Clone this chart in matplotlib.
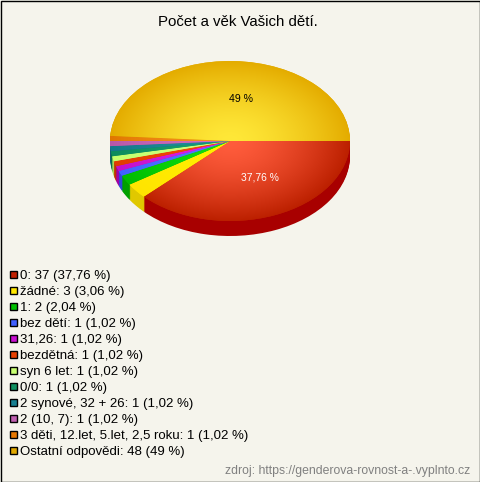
import numpy as np
import matplotlib
matplotlib.use('Agg')
import matplotlib.pyplot as plt
from matplotlib.colors import LinearSegmentedColormap
from matplotlib.patches import Rectangle

plt.rcParams['font.family'] = ['Liberation Sans', 'DejaVu Sans']

labels = ['0', 'žádné', '1', 'bez dětí', '31,26', 'bezdětná', 'syn 6 let', '0/0',
          '2 synové, 32 + 26', '2 (10, 7)', '3 děti, 12.let, 5.let, 2,5 roku',
          'Ostatní odpovědi']
counts = [37, 3, 2, 1, 1, 1, 1, 1, 1, 1, 1, 48]
percents = ['37,76', '3,06', '2,04', '1,02', '1,02', '1,02', '1,02', '1,02',
            '1,02', '1,02', '1,02', '49']

# legend colours, then lit centre / rim of the top face, then the side wall
legend_colors = ['#c02000', '#ffe800', '#00c000', '#4060ff', '#c810d0', '#e84000',
                 '#c8ff70', '#109060', '#187f90', '#c060b0', '#e87800', '#e0a800']
center_colors = ['#ff5c3c', '#fff000', '#10e010', '#5878ff', '#e020e8', '#f84808',
                 '#d0ff80', '#18a070', '#209098', '#d070c0', '#f89020', '#ffe838']
rim_colors = ['#bc2000', '#ffe400', '#00bc00', '#4060ff', '#c010c8', '#e03c00',
              '#c4ff6c', '#0c8c5c', '#14788c', '#b858a8', '#e07800', '#e4ac00']
side_colors = ['#a80000', '#e0c800', '#00a000', '#3048d8', '#a000a8', '#c03000',
               '#a8d858', '#087048', '#106070', '#984890', '#c06000', '#c08800']

W, H = 480, 482
fig = plt.figure(figsize=(W / 100, H / 100), dpi=100, facecolor='#f5f4ec')

# pixel overlay for border and texts
px = fig.add_axes([0, 0, 1, 1], zorder=2)
px.set_xlim(0, W)
px.set_ylim(H, 0)
px.axis('off')
px.add_patch(Rectangle((0.5, 0.5), W - 1, H - 1, fill=False, ec='black', lw=1))

px.text(238, 21.5, 'Počet a věk Vašich dětí.', ha='center', va='center', fontsize=10.8, color='black')
px.text(241, 99, '49 %', ha='center', va='center', fontsize=7.6, color='black')
px.text(259.5, 178, '37,76 %', ha='center', va='center', fontsize=7.4, color='white')

for i, lab in enumerate(labels):
    y = 274 + i * 16
    px.add_patch(Rectangle((9.5, y - 3.5), 7.5, 7.5, fc=legend_colors[i], ec='black', lw=1))
    px.text(20, y + 1.5, f'{lab}: {counts[i]} ({percents[i]} %)', ha='left', va='center',
            fontsize=9.5, color='black')

px.text(470, 471, 'zdroj: https://genderova-rovnost-a-.vyplnto.cz', ha='right', va='center',
        fontsize=8.8, color='#808080')

# pie axes: unit circle stretched to 120 x 80 px, centre at (230, 141)
cx, cy, rx, ry, depth = 230, 141, 120, 80, 15
ax = fig.add_axes([(cx - rx * 1.1) / W, 1 - (cy + ry * 1.1) / H, rx * 2.2 / W, ry * 2.2 / H], zorder=1)

for d in np.arange(depth, 0, -1):
    ax.pie(counts, colors=side_colors, startangle=0, counterclock=False,
           center=(0, -d / ry), radius=1, frame=True)

wedges, _ = ax.pie(counts, colors=rim_colors, startangle=0, counterclock=False, radius=1, frame=True)

# radial shading, stays bright a bit longer than a straight ramp
xx, yy = np.meshgrid(np.linspace(-1, 1, 500), np.linspace(-1, 1, 500))
rr = np.clip(np.hypot(xx, yy), 0, 1) ** 1.5
for w, c0, c1 in zip(wedges, center_colors, rim_colors):
    cmap = LinearSegmentedColormap.from_list('s', [c0, c1])
    im = ax.imshow(rr, extent=(-1, 1, -1, 1), origin='lower', cmap=cmap, vmin=0, vmax=1,
                   aspect='auto', zorder=5)
    im.set_clip_path(w)

ax.set_aspect('auto')
ax.set_xlim(-1.1, 1.1)
ax.set_ylim(-1.1, 1.1)
ax.axis('off')

fig.savefig('out.png', dpi=100, facecolor=fig.get_facecolor())
